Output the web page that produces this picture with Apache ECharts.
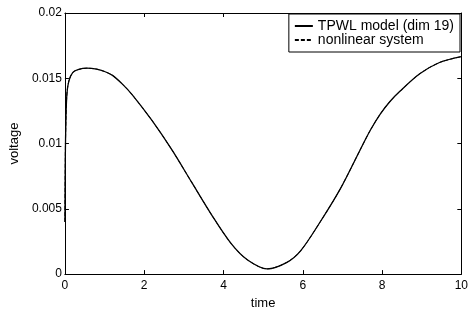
<!DOCTYPE html>
<html>
<head>
<meta charset="utf-8">
<script src="https://cdn.jsdelivr.net/npm/echarts@6/dist/echarts.min.js"></script>
<style>
  html, body { margin: 0; padding: 0; background: #fff; }
  #main { width: 471px; height: 315px; }
</style>
</head>
<body>
<div id="main"></div>
<script>
// time samples and voltage
var timeVals = [0, 0.01, 0.025, 0.05, 0.1, 0.2, 0.35, 0.55, 0.8, 1.0, 1.2, 1.45, 1.7, 2.2, 2.7, 3.2, 3.7, 4.2, 4.6, 5.1, 5.6, 5.95, 6.45, 6.95, 7.45, 7.7, 7.95, 8.2, 8.45, 8.95, 9.45, 10];
var tpwlVals = [0.004, 0.009, 0.0118, 0.0138, 0.0148, 0.01545, 0.01568, 0.01577, 0.0157, 0.01552, 0.01522, 0.01455, 0.01373, 0.01175, 0.00951, 0.00702, 0.00454, 0.00231, 0.0011, 0.0004, 0.0009, 0.0018, 0.00405, 0.00655, 0.00953, 0.0110, 0.01224, 0.01322, 0.0140, 0.01534, 0.01621, 0.01666];
var nonlinVals = [0.004, 0.009, 0.0118, 0.0138, 0.0148, 0.01545, 0.01568, 0.01577, 0.0157, 0.01552, 0.01522, 0.01455, 0.01373, 0.01175, 0.00951, 0.00702, 0.00454, 0.00231, 0.0011, 0.0004, 0.0009, 0.0018, 0.00405, 0.00655, 0.00953, 0.0110, 0.01224, 0.01322, 0.0140, 0.01534, 0.01621, 0.01666];
var seriesNames = ['TPWL model (dim 19)', 'nonlinear system'];

function pairs(xs, ys) {
    return xs.map(function (x, i) { return [x, ys[i]]; });
}

var myChart = echarts.init(document.getElementById('main'));
var font = 'Liberation Sans, Arial, Helvetica, sans-serif';
var tickStyle = { inside: true, length: 4, lineStyle: { color: '#000', width: 1 } };
var lineAx = { show: true, onZero: false, lineStyle: { color: '#000', width: 1 } };

var option = {
    backgroundColor: '#fff',
    animation: false,
    grid: { left: 62, top: 13, right: 9, bottom: 34 },
    legend: {
        data: seriesNames,
        orient: 'vertical',
        right: 11,
        top: 14,
        padding: [5, 6, 5, 5],
        itemGap: 0,
        itemWidth: 18,
        itemHeight: 15,
        backgroundColor: '#fff',
        borderColor: '#000',
        borderWidth: 1,
        borderRadius: 0,
        itemStyle: { opacity: 0 },
        textStyle: { color: '#000', fontSize: 14, fontFamily: font }
    },
    xAxis: [{
        type: 'value',
        min: 0, max: 10, interval: 2,
        name: 'time',
        nameLocation: 'middle',
        nameGap: 20,
        nameTextStyle: { color: '#000', fontSize: 13, fontFamily: font },
        axisLine: lineAx,
        axisTick: tickStyle,
        axisLabel: { color: '#000', fontSize: 12, fontFamily: font, margin: 6 },
        splitLine: { show: false }
    }, {
        type: 'value', position: 'top',
        min: 0, max: 10, interval: 2,
        axisLine: lineAx, axisTick: tickStyle,
        axisLabel: { show: false }, splitLine: { show: false }
    }],
    yAxis: [{
        type: 'value',
        min: 0, max: 0.02, interval: 0.005,
        name: 'voltage',
        nameLocation: 'middle',
        nameGap: 37,
        nameTextStyle: { color: '#000', fontSize: 13, fontFamily: font },
        axisLine: lineAx,
        axisTick: tickStyle,
        axisLabel: {
            color: '#000', fontSize: 12, fontFamily: font, margin: 3,
            formatter: function (v) { return String(+v.toFixed(3)); }
        },
        splitLine: { show: false }
    }, {
        type: 'value', position: 'right',
        min: 0, max: 0.02, interval: 0.005,
        axisLine: lineAx, axisTick: tickStyle,
        axisLabel: { show: false }, splitLine: { show: false }
    }],
    series: [{
        name: seriesNames[0],
        type: 'line',
        smooth: 0.3,
        showSymbol: false,
        symbol: 'none',
        data: pairs(timeVals, tpwlVals),
        lineStyle: { color: '#000', width: 1.3, type: 'solid' },
        itemStyle: { color: '#000' }
    }, {
        name: seriesNames[1],
        type: 'line',
        smooth: 0.3,
        showSymbol: false,
        symbol: 'none',
        data: pairs(timeVals, nonlinVals),
        lineStyle: { color: '#000', width: 1, type: [4, 2] },
        itemStyle: { color: '#000' }
    }]
};
myChart.setOption(option);
</script>
</body>
</html>
